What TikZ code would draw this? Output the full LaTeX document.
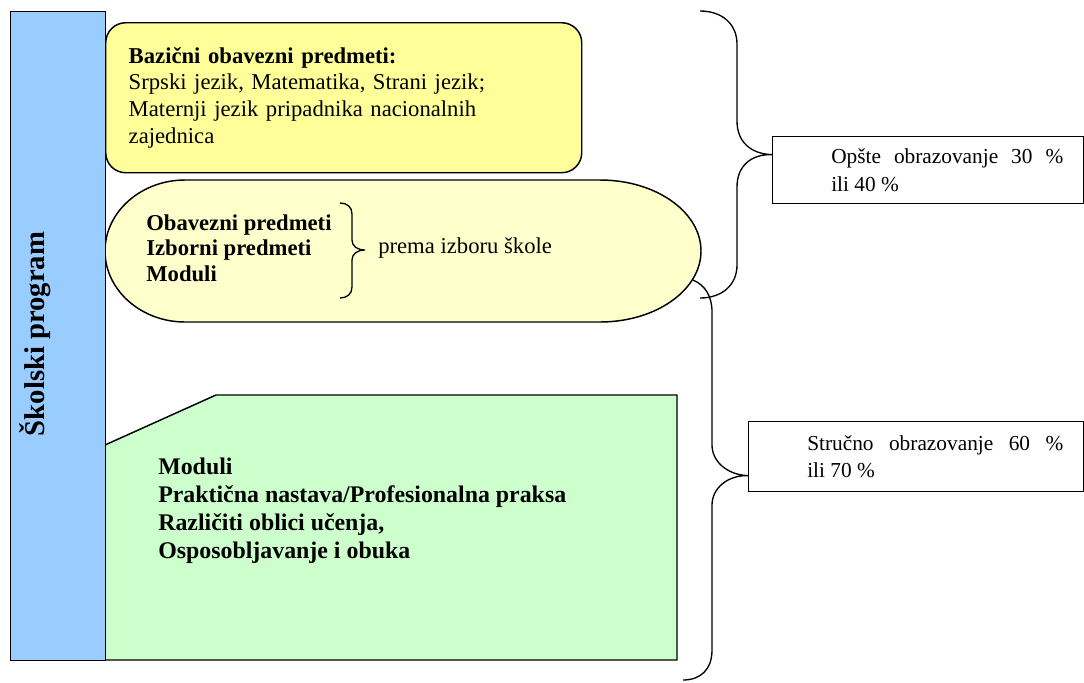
\documentclass[tikz,border=0pt]{standalone}
\usepackage{fontspec}
\setmainfont{Liberation Serif}
\usetikzlibrary{positioning}

\definecolor{programblue}{HTML}{99CCFF}
\definecolor{basicyellow}{HTML}{FFFF99}
\definecolor{choiceyellow}{HTML}{FFFFCC}
\definecolor{vocgreen}{HTML}{CCFFCC}

\begin{document}
\begin{tikzpicture}[x=0.75pt, y=-0.75pt,
    outline/.style={draw=black, line width=1.1pt},
    curly/.style={draw=black, line width=1pt},
    basicbox/.style={outline, fill=basicyellow, rounded corners=15pt,
        anchor=north west, minimum width=357pt, minimum height=112.5pt,
        inner xsep=17.25pt, inner ysep=0pt, text width=322.5pt, align=left,
        font=\fontsize{17}{20}\selectfont},
    pctbox/.style={draw=black, line width=0.9pt, anchor=north west, inner sep=0pt},
    pcttext/.style={inner sep=0pt, align=justify, font=\fontsize{16}{20.5}\selectfont},
    subjects/.style={inner sep=0pt, anchor=west, align=left}]

\useasboundingbox (0,0) rectangle (1084,682);

% basic subjects
\node[basicbox] (basic) at (105,22)
    {\textbf{Bazični obavezni predmeti:}\\
     Srpski jezik, Matematika, Strani jezik;\\
     Maternji jezik pripadnika nacionalnih\\
     zajednica};

% subjects chosen by the school
\draw[outline, fill=choiceyellow] (185,180) -- (600,180)
    .. controls (656,180) and (701,212) .. (701,251)
    .. controls (701,290) and (656,322) .. (600,322) -- (185,322)
    .. controls (141,322) and (105,290) .. (105,251)
    .. controls (105,212) and (141,180) .. (185,180) -- cycle;
\node[subjects, font=\bfseries\fontsize{17}{19.1}\selectfont] (elective) at (146,248)
    {Obavezni predmeti\\ Izborni predmeti\\ Moduli};
\node[subjects, font=\fontsize{17}{20}\selectfont] (choice) at (378,248) {prema izboru škole};
\draw[curly] (340,203) .. controls (347,203) and (352,207) .. (352,214) -- (352,240)
    .. controls (352,246) and (357,250) .. (365,250)
    .. controls (357,250) and (352,254) .. (352,260) -- (352,287)
    .. controls (352,294) and (347,298) .. (340,298);

% vocational part
\draw[outline, fill=vocgreen] (105,445) -- (216,395) -- (677,395) -- (677,660)
    -- (105,660) -- cycle;
\node[subjects, font=\bfseries\fontsize{17.9}{21}\selectfont] (vocational) at (158,511)
    {Moduli\\ Praktična nastava/Profesionalna praksa\\
     Različiti oblici učenja,\\ Osposobljavanje i obuka};

% school programme bar
\node[outline, fill=programblue, anchor=north west, minimum width=71.25pt,
    minimum height=486.75pt] (bar) at (10,11) {};
\node[rotate=90, inner sep=0pt, font=\bfseries\fontsize{21.5}{24}\selectfont] (title)
    at (35,334) {Školski program};

% shares
\node[pctbox, minimum width=233.25pt, minimum height=50.25pt] (opste) at (772,136) {};
\node[pcttext, text width=174pt, right=44.25pt of opste.west] (opstetext)
    {Opšte obrazovanje 30~\%\linebreak ili 40~\%};
\node[pctbox, minimum width=251.25pt, minimum height=52.5pt] (strucno) at (748,421) {};
\node[pcttext, text width=192pt, right=44.25pt of strucno.west] (strucnotext)
    {Stručno obrazovanje 60~\%\linebreak ili 70~\%};

\coordinate (tip1) at ([yshift=11.6pt]opste.west);
\coordinate (tip2) at ([yshift=-14.25pt]strucno.west);

\draw[curly] (700,11) .. controls (722,11) and (737,24) .. (737,44) -- (737,121)
    .. controls (737,142) and (751,154) .. (tip1)
    .. controls (751,154) and (737,166) .. (737,187) -- (737,265)
    .. controls (737,285) and (722,298) .. (700,298);
\draw[curly] (693,280) .. controls (705,285) and (712,296) .. (712,312) -- (712,445)
    .. controls (712,462) and (728,475) .. (tip2)
    .. controls (728,475) and (712,488) .. (712,505) -- (712,650)
    .. controls (712,670) and (700,680) .. (683,680);

\end{tikzpicture}
\end{document}
